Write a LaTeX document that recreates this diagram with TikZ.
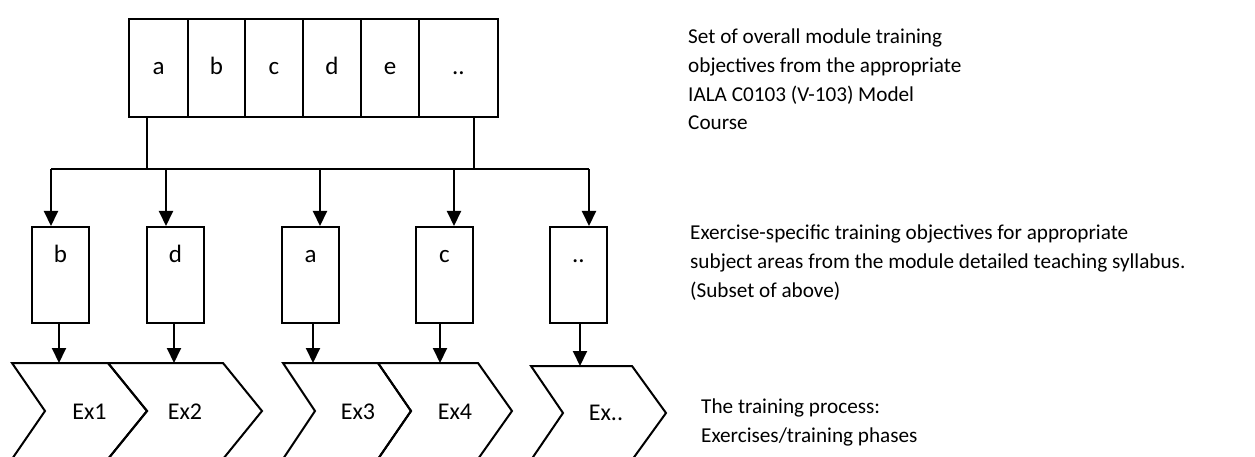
\documentclass[tikz,border=0pt]{standalone}
\usepackage{fontspec}
\setmainfont{Carlito}
\usetikzlibrary{arrows.meta,positioning,calc}
\tikzset{
  ln/.style={line width=2pt,black},
  arr/.style={ln,-{Triangle[width=14pt,length=15pt]}},
  cell/.style={ln,draw,rectangle,minimum height=98pt,inner sep=0pt,text height=14pt,text depth=0pt,font=\fontsize{25}{30}\selectfont},
  objbox/.style={ln,draw,rectangle,minimum width=57pt,minimum height=96pt,inner sep=0pt},
  lbl/.style={inner sep=0pt,anchor=base,font=\fontsize{25}{30}\selectfont},
  exlbl/.style={inner sep=0pt,anchor=base,font=\fontsize{24}{28}\selectfont},
  desc/.style={inner sep=0pt,anchor=base west,align=left,font=\fontsize{21.2}{28.7}\selectfont},
  chev/.style={ln,line join=miter}
}
\begin{document}
\begin{tikzpicture}[x=1pt,y=-1pt]
\useasboundingbox (0,0) rectangle (1255,457);
\clip (0,0) rectangle (1255,457);
% top set of objectives
\node[cell,minimum width=59pt] (ta) at (158.5,68) {a};
\node[cell,minimum width=57pt] (tb) at (216.5,68) {b};
\node[cell,minimum width=58pt] (tc) at (274,68) {c};
\node[cell,minimum width=58pt] (td) at (332,68) {d};
\node[cell,minimum width=58pt] (te) at (390,68) {e};
\node[cell,minimum width=79pt] (tf) at (458.5,68) {..};
% bus
\coordinate (bl) at (147,169);
\coordinate (br) at (474,169);
\coordinate (b1) at (51,169);
\coordinate (b2) at (166,169);
\coordinate (b3) at (320,169);
\coordinate (b4) at (454,169);
\coordinate (b5) at (589,169);
\draw[ln] (bl |- ta.south) -- (bl);
\draw[ln] (br |- tf.south) -- (br);
\draw[ln] (b1) -- (b5);
% exercise specific boxes
\node[objbox,label={[lbl,yshift=-36pt]north:b}] (mb) at (60.5,275) {};
\node[objbox,label={[lbl,yshift=-36pt]north:d}] (md) at (175.5,275) {};
\node[objbox,label={[lbl,yshift=-36pt]north:a}] (ma) at (310.5,275) {};
\node[objbox,label={[lbl,yshift=-36pt]north:c}] (mc) at (444.5,275) {};
\node[objbox,label={[lbl,yshift=-36pt]north:..}] (mx) at (578.5,275) {};
\draw[arr] (b1) -- (b1 |- mb.north);
\draw[arr] (b2) -- (b2 |- md.north);
\draw[arr] (b3) -- (b3 |- ma.north);
\draw[arr] (b4) -- (b4 |- mc.north);
\draw[arr] (b5) -- (b5 |- mx.north);
% chevrons
\coordinate (c1) at (59,363);
\coordinate (c2) at (174,363);
\coordinate (c3) at (313,363);
\coordinate (c4) at (440,363);
\coordinate (c5) at (580,366);
\draw[chev] (12,363) -- (108,363) -- (147,411) -- (108,459) -- (12,459) -- (45,411) -- cycle;
\draw[chev] (108,363) -- (223,363) -- (262,411) -- (223,459) -- (108,459) -- (147,411) -- cycle;
\draw[chev] (283,363) -- (378,363) -- (411,411) -- (378,459) -- (283,459) -- (315,411) -- cycle;
\draw[chev] (378,363) -- (478,363) -- (512,411) -- (478,459) -- (378,459) -- (411,411) -- cycle;
\draw[chev] (531,366) -- (632,366) -- (666,413) -- (632,460) -- (531,460) -- (563,413) -- cycle;
\node[exlbl] (e1) at (89.5,419) {Ex1};
\node[exlbl] (e2) at (185,419) {Ex2};
\node[exlbl] (e3) at (358,419) {Ex3};
\node[exlbl] (e4) at (455,419) {Ex4};
\node[exlbl] (e5) at (606,420) {Ex..};
\draw[arr] (c1 |- mb.south) -- (c1);
\draw[arr] (c2 |- md.south) -- (c2);
\draw[arr] (c3 |- ma.south) -- (c3);
\draw[arr] (c4 |- mc.south) -- (c4);
\draw[arr] (c5 |- mx.south) -- (c5);
% descriptions (base anchor = last line)
\node[desc] (d1) at (688,130) {Set of overall module training\\objectives from the appropriate\\IALA C0103 (V-103) Model\\Course};
\node[desc] (d2) at (690,297) {Exercise-specific training objectives for appropriate\\subject areas from the module detailed teaching syllabus.\\(Subset of above)};
\node[desc] (d3) at (701,442) {The training process:\\Exercises/training phases};
\end{tikzpicture}
\end{document}
